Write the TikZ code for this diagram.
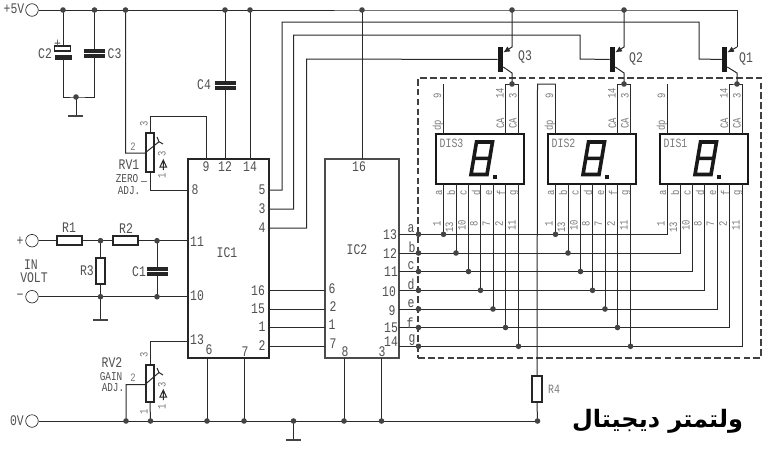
\documentclass[tikz,border=0pt]{standalone}
\usepackage{fontspec}
\usetikzlibrary{arrows.meta}
\TeXXeTstate=1
\newfontfamily\arabicfont[Script=Arabic]{DejaVu Sans}
\newfontfamily\labfont[FakeStretch=0.78]{Liberation Mono}
\definecolor{wirec}{HTML}{2A2A2A}
\definecolor{dotc}{HTML}{444444}
\definecolor{labc}{HTML}{505050}
\definecolor{smallc}{HTML}{7A7A7A}
\tikzset{
 wire/.style={draw=wirec,line width=0.75pt},
 jn/.style={circle,fill=dotc,inner sep=0pt,minimum size=4.2pt},
 term/.style={circle,draw=wirec,line width=0.5pt,fill=white,inner sep=0pt,minimum size=9.4pt},
 res/.style={rectangle,draw=black!85,line width=1.4pt,fill=white,inner sep=0pt},
 icbox/.style={rectangle,draw=black!85,line width=1.6pt,inner sep=0pt,minimum width=60.75pt,minimum height=149.25pt},
 dispbox/.style={rectangle,draw=black!90,line width=1.5pt,inner sep=0pt,minimum width=66pt,minimum height=37.5pt},
 plate/.style={rectangle,fill=black!85,inner sep=0pt,minimum width=15.75pt,minimum height=2.8pt},
 tbar/.style={rectangle,fill=black!90,inner sep=0pt,minimum width=3.75pt,minimum height=18.75pt},
 lb/.style={text=labc,inner sep=0pt,font=\labfont\fontsize{11}{11}\selectfont},
 lbs/.style={text=smallc,inner sep=0pt,font=\labfont\fontsize{8.5}{8.5}\selectfont},
 lbm/.style={text=labc,inner sep=0pt,font=\labfont\fontsize{9.5}{9.5}\selectfont},
 lbz/.style={text=labc,inner sep=0pt,font=\labfont\fontsize{9}{9}\selectfont},
}
\newcommand{\Lb}[4][lb]{\node[#1] (#2) at (#3) {#4};}
% display: number, left x
\newcommand{\Disp}[2]{%
 \node[dispbox] (dis#1) at (#2+44,159) {};
 \coordinate (d#1dp) at (#2+7.5,134);
 \coordinate (d#1dpt) at (#2+7.5,84);
 \coordinate (d#1cal) at (#2+69.5,134);
 \coordinate (d#1car) at (#2+82.5,134);
 \coordinate (d#1ctop) at (#2+76,84);
 \draw[wire] (d#1dp) -- (d#1dpt);
 \draw[wire] (d#1cal) |- (d#1ctop) -| (d#1car);
 \draw[line width=2.7pt,black!90,line join=miter]
   (#2+40.5,142) -- (#2+56.5,142) -- (#2+51,174.5) -- (#2+35,174.5) -- cycle
   (#2+37.5,158.3) -- (#2+54,158.3);
 \fill[black!90] (#2+56.5,174.5) rectangle (#2+61,179);
 \Lb[lbm,text=smallc]{tdis#1}{#2+15.5,143}{DIS#1}
 \Lb[lbs,rotate=90]{tn#1}{#2+1.5,96}{9}
 \Lb[lbs,rotate=90]{tdp#1}{#2+2,125}{dp}
 \Lb[lbs,rotate=90]{tca#1}{#2+64.5,123}{CA}
 \Lb[lbs,rotate=90]{tcb#1}{#2+77,123}{CA}
 \Lb[lbs,rotate=90]{tf#1}{#2+64,93}{14}
 \Lb[lbs,rotate=90]{tt#1}{#2+77,96}{3}
}
\begin{document}
\begin{tikzpicture}[x=0.75pt,y=-0.75pt]
\useasboundingbox[fill=white] (0,0) rectangle (766,464);
% terminals
\node[term] (t5v) at (32,10) {};
\node[term] (tplus) at (32,240.7) {};
\node[term] (tminus) at (32,296.7) {};
\node[term] (t0v) at (32,421) {};
% rail points
\foreach \n/\x in {ra/63,rb/94.5,rc/125.5,rd/225,re/250,rf/362,rg/512,rh/624}
  \coordinate (\n) at (\x,10);
\coordinate (re1) at (737,47);
\foreach \n/\x in {za/126,zb/150.5,zc/207,zd/244,ze/293.5,zf/344,zg/381.5,zh/537.5}
  \coordinate (\n) at (\x,421);
% ICs
\node[icbox] (ic1) at (228.5,258.5) {};
\node[icbox,draw=black!70,minimum width=55.5pt] (ic2) at (362,258.5) {};
% frame
\node[rectangle,draw=black!75,line width=1.5pt,dash pattern=on 5pt off 2.4pt,inner sep=0pt,minimum width=257.25pt,minimum height=210pt] (frame) at (589.5,218) {};
% rails
\draw[wire] (t5v) -- (rh) -- (737,10) -- (re1);
\draw[wire] (t0v) -- (zh);
% C2, C3
\node[res,line width=1pt,minimum width=12pt,minimum height=3.6pt] (c2a) at (62.5,48.5) {};
\node[plate,minimum width=12.5pt,minimum height=3.4pt] (c2b) at (63.5,57.3) {};
\node[plate] (c3a) at (94.5,51.3) {};
\node[plate] (c3b) at (94.5,56) {};
\coordinate (cgnd) at (76,97);
\coordinate (gnda) at (76,116);
\draw[wire] (ra) -- (c2a.north -| ra);
\draw[wire] (c2b.south -| ra) -- (63,97) -- (cgnd) -- (94.5,97) -- (c3b.south -| rb);
\draw[wire] (rb) -- (c3a.north -| rb);
\draw[wire] (cgnd) -- (gnda);
\draw[line width=1pt,dotc] (68,116) -- (83,116);
% RV1
\node[res,minimum width=6pt,minimum height=29pt] (rv1) at (150,152.5) {};
\coordinate (rv1w) at (145,153);
\coordinate (p9) at (206.5,159);
\coordinate (p8) at (188,190);
\draw[wire] (rc) |- (rv1w) -- (159,141.7);
\draw[wire] (157,137) -- (159,141.7) -- (163,144);
\draw[wire] (rv1.north) |- (206.5,116) -- (p9);
\draw[wire] (rv1.south) |- (p8);
\draw[wire] (160,167) -- (163.3,160) -- (166.5,167) -- cycle (163.3,160) -- (163.3,170);
% C4 and supplies
\node[plate] (c4a) at (225.5,82.7) {};
\node[plate] (c4b) at (225.5,87.8) {};
\draw[wire] (rd) -- (c4a.north -| rd);
\draw[wire] (c4b.south -| rd) -- (225,159);
\draw[wire] (re) -- (250,159);
\draw[wire] (rf) -- (362,159);
% IC1 outputs to transistors
\node[tbar] (q3) at (500.5,59.5) {};
\node[tbar] (q2) at (612.5,59.5) {};
\node[tbar] (q1) at (724.5,59.5) {};
\coordinate (p5) at (269,190);
\coordinate (p3) at (269,209);
\coordinate (p4) at (269,228);
\draw[wire] (p5) -| (282,22) -| (699,59) -- (q1.west);
\draw[wire] (p3) -| (293.5,35) -| (580,59) -- (q2.west);
\draw[wire] (p4) -| (306.5,59) -- (q3.west);
\foreach \q/\x/\r in {q3/512/rg,q2/624/rh,q1/737/re1}{
  \coordinate (\q c) at (\x,84);
  \draw[wire] (\q.east |- 0,67) -- (\x,73) -- (\q c);
  \draw[wire,-{Latex[length=5pt,width=4.5pt]}] (\r) -- (\x,47) -- (\q.east |- 0,52.5);
}
% displays
\Disp{3}{436}
\Disp{2}{548}
\Disp{1}{660}
% segments
\foreach \L/\o/\Y/\N/\lx/\ny in {a/7.5/234.3/1/-4.5/224,b/20/253/13/-5/227,c/32.5/271.5/10/-5/225,d/44.5/290.3/8/-4.5/224,e/57/309/7/-4/224,f/69.5/327.5/2/-4.5/224,g/82.5/346.3/11/-4/225}{
  \coordinate (ic2\L) at (399,\Y);
  \coordinate (fr\L) at (418.5,\Y);
  \foreach \d/\x in {3/436,2/548,1/660}{
    \coordinate (pin\d\L) at (\x+\o,184);
    \coordinate (bus\d\L) at (\x+\o,\Y);
    \Lb[lbs,rotate=90]{tl\d\L}{\x+\o+\lx,192.5}{\L}
    \Lb[lbs,rotate=90]{tnum\d\L}{\x+\o-6.5,\ny}{\N}
  }
  \draw[wire] (ic2\L) -| (pin1\L);
  \draw[wire] (pin3\L) -- (bus3\L);
  \draw[wire] (pin2\L) -- (bus2\L);
}
% R4
\node[res,minimum width=7pt,minimum height=19.5pt] (r4) at (537,389) {};
\draw[wire] (d2dpt) -- (537.5,84) -- (r4.north);
\draw[wire] (r4.south) -- (zh);
% input
\node[res,minimum width=19pt,minimum height=7pt] (r1) at (69.5,240.7) {};
\node[res,minimum width=19pt,minimum height=7pt] (r2) at (125.5,240.7) {};
\node[res,minimum width=7pt,minimum height=19.5pt] (r3) at (100.5,271) {};
\coordinate (ja) at (100.5,240.7);
\coordinate (jb) at (157,240.7);
\coordinate (jc) at (100.5,296.7);
\coordinate (jd) at (157,296.7);
\coordinate (p11) at (188,240.7);
\coordinate (p10) at (188,296.7);
\coordinate (gndb) at (100.5,320);
\draw[wire] (tplus) -- (r1) -- (ja) -- (r2) -- (jb) -- (p11);
\draw[wire] (tminus) -- (p10);
\draw[wire] (ja) -- (r3) -- (jc) -- (gndb);
\draw[line width=1pt,dotc] (93,320) -- (108,320);
\node[plate] (c1a) at (157,269.3) {};
\node[plate] (c1b) at (157,274.3) {};
\draw[wire] (jb) -- (c1a);
\draw[wire] (c1b) -- (jd);
% RV2
\node[res,minimum width=6pt,minimum height=28pt] (rv2) at (150,383.5) {};
\coordinate (p13) at (188,341);
\coordinate (rv2w) at (145,384.5);
\draw[wire] (rv2.north) |- (p13);
\draw[wire] (rv2.south) -- (zb);
\draw[wire] (za) |- (rv2w) -- (159,372.5);
\draw[wire] (157,368) -- (159,372.5) -- (163,375);
\draw[wire] (160,397) -- (163.3,390) -- (166.5,397) -- cycle (163.3,390) -- (163.3,400);
% IC1 bottom, IC2 bottom
\draw[wire] (207,358) -- (zc);
\draw[wire] (244,358) -- (zd);
\draw[wire] (344,358) -- (zf);
\draw[wire] (381.5,358) -- (zg);
\coordinate (gndc) at (293.5,440);
\draw[wire] (ze) -- (gndc);
\draw[line width=1pt,dotc] (286,440) -- (301,440);
% IC1 to IC2
\foreach \n/\y in {a/290.5,b/309,c/327,d/346.5}{
  \coordinate (lk\n) at (269,\y);
  \coordinate (rk\n) at (325,\y);
  \draw[wire] (lk\n) -- (rk\n);
}
% dots
\foreach \c in {ra,rb,rc,rd,re,rf,rg,rh,za,zb,zc,zd,ze,zf,zg,zh,cgnd,ja,jb,jc,jd,q3c,q2c,q1c}
  \node[jn] (dot\c) at (\c) {};
\foreach \L in {a,b,c,d,e,f,g}{
  \node[jn] (dotf\L) at (fr\L) {};
  \node[jn] (dotb\L) at (bus3\L) {};
  \node[jn] (dotc\L) at (bus2\L) {};
}
% labels
\Lb{l5v}{14,9}{+5V}
\Lb{lc2}{45,53.5}{C2}
\Lb{lplus}{57.5,44}{+}
\Lb{lc3}{114.5,53.5}{C3}
\Lb{lc4}{204,85}{C4}
\Lb{lrv1}{129,165}{RV1}
\Lb[lbz]{lzero}{127,178.5}{ZERO}
\Lb[lbz]{ladj}{129,190.5}{ADJ.}
\draw[line width=0.4pt,smallc] (141,181.5) -- (147,181.5);
\Lb[lbs]{lw1}{133,147}{2}
\Lb[lbs,rotate=90]{lt1}{144,124}{3}
\Lb[lbs,rotate=90]{la1}{162,154}{3}
\Lb[lbs,rotate=90]{lb1}{162,176}{1}
\Lb{lr1}{69,228}{R1}
\Lb{lr2}{126,229}{R2}
\Lb{lr3}{87,271}{R3}
\Lb{lc1}{139,271.5}{C1}
\Lb[lbm,text=smallc]{lr4}{554,389}{R4}
\Lb{lin}{31,265}{IN}
\Lb{lvolt}{34,278}{VOLT}
\Lb{lpp}{20,241}{+}
\Lb{lmm}{20,297}{−}
\Lb{l0v}{17,421}{0V}
\Lb{lrv2}{112,363}{RV2}
\Lb[lbz]{lgain}{111,376.5}{GAIN}
\Lb[lbz]{ladjb}{113,388}{ADJ.}
\Lb[lbs]{lw2}{133,378}{2}
\Lb[lbs,rotate=90]{lt2}{144,355}{3}
\Lb[lbs,rotate=90]{lb2}{144,412}{1}
\Lb[lbs,rotate=90]{la3}{162,385}{3}
\Lb[lbs,rotate=90]{la4}{162,407}{1}
\Lb{i9}{206,167}{9}
\Lb{i12}{225,167}{12}
\Lb{i14}{250,167}{14}
\Lb{i8}{195,190}{8}
\Lb{i5}{262,190}{5}
\Lb{i3}{262,209}{3}
\Lb{i4}{262,228}{4}
\Lb{i11}{197,242}{11}
\Lb{i10}{197,296}{10}
\Lb{iname}{227,253}{IC1}
\Lb{i16}{258,290.5}{16}
\Lb{i15}{258,309}{15}
\Lb{i1}{262,327}{1}
\Lb{i2}{262,346}{2}
\Lb{i13}{197,339.5}{13}
\Lb{i6}{209,350}{6}
\Lb{i7}{245,352}{7}
\Lb{k16}{359,167}{16}
\Lb{kname}{357,250}{IC2}
\Lb{k6}{332,288.5}{6}
\Lb{k2}{333,307}{2}
\Lb{k1}{332,325}{1}
\Lb{k7}{333,344}{7}
\Lb{k8}{345,352}{8}
\Lb{k3}{382,352}{3}
\Lb{k13}{390,235}{13}
\Lb{k12}{390,254}{12}
\Lb{k11}{391,272}{11}
\Lb{k10}{389,292}{10}
\Lb{k9}{392,311}{9}
\Lb{k15}{391,328}{15}
\Lb{k14}{391,342}{14}
\Lb{sa}{411,229}{a}
\Lb{sb}{412,247}{b}
\Lb{sc}{411,266}{c}
\Lb{sd}{411,284}{d}
\Lb{se}{411,304}{e}
\Lb{sf}{410,323}{f}
\Lb{sg}{412,340}{g}
\Lb{q3l}{525,57}{Q3}
\Lb{q2l}{636,59}{Q2}
\Lb{q1l}{746,59}{Q1}
\node[inner sep=0pt,text=black] (title) at (657.5,421) {\arabicfont\bfseries\fontsize{18}{18}\selectfont\beginR ولتمتر ديجيتال\endR};
\end{tikzpicture}
\end{document}
